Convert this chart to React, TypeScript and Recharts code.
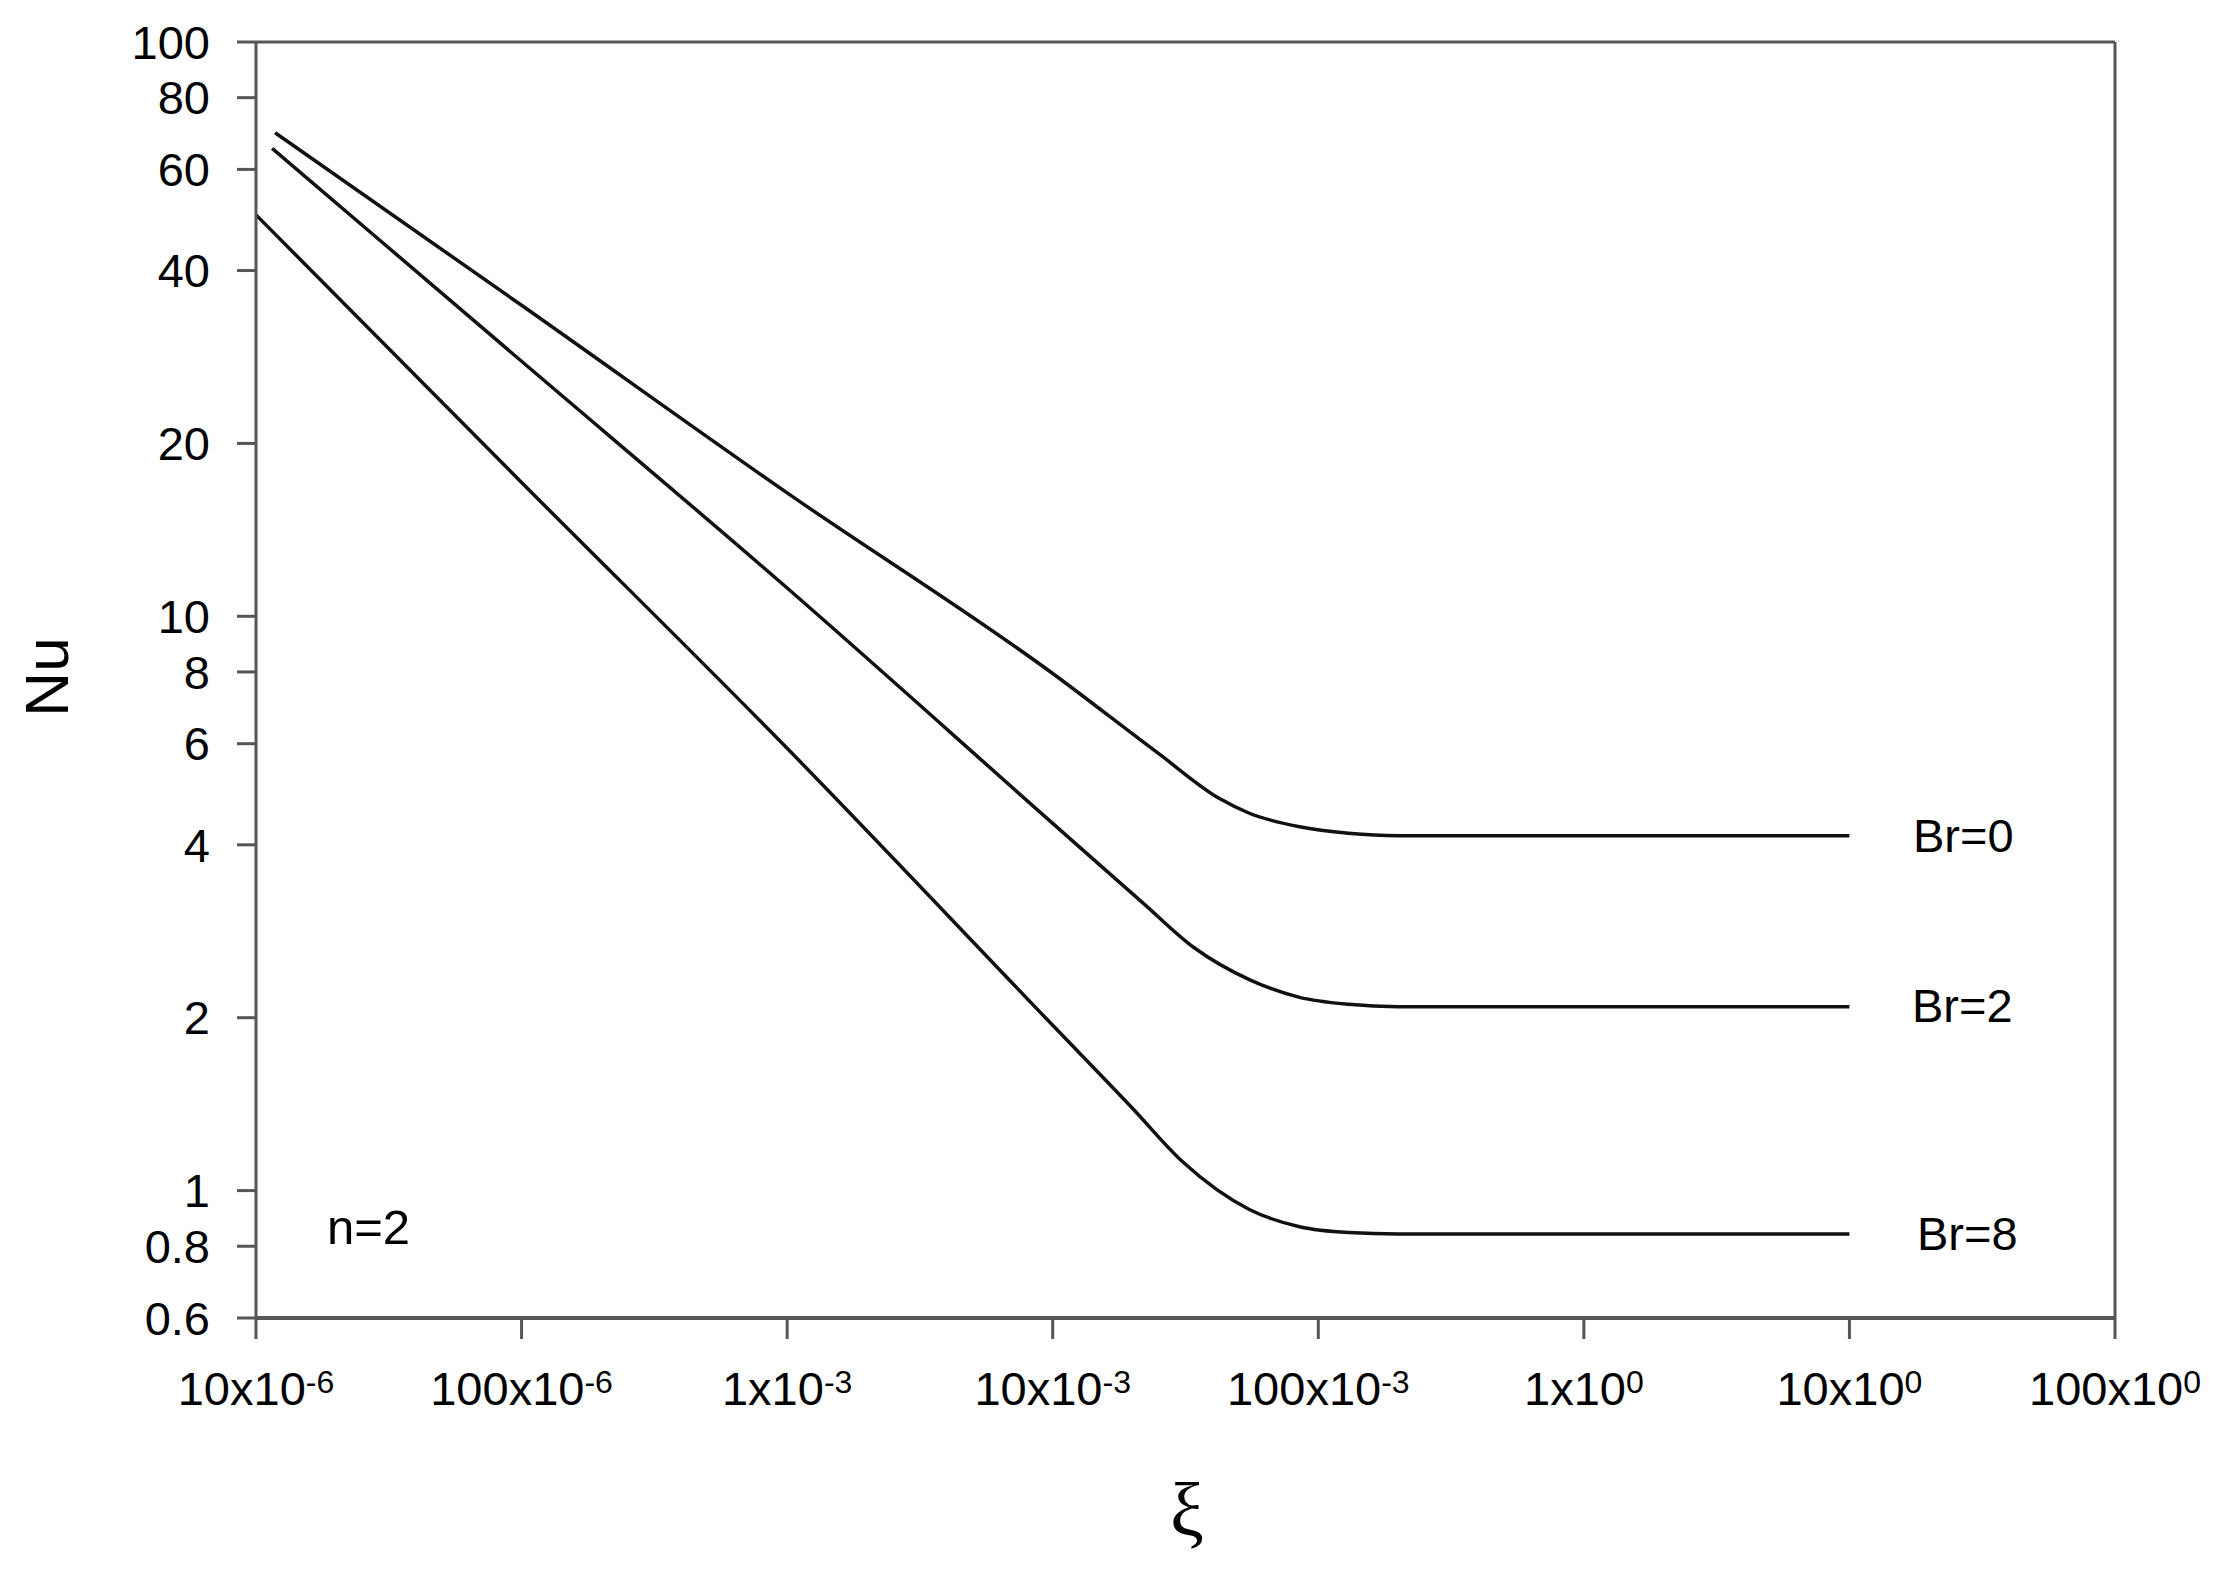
import React from "react";
import { LineChart, Line, XAxis, YAxis, ReferenceLine } from "recharts";

// Nu vs xi, n=2, three Brinkman numbers
const br0X = [1.18e-5, 1e-4, 1e-3, 1e-2, 2.5e-2, 4.23e-2, 5.5e-2, 8.5e-2, 0.13, 0.2, 10];
const br0Nu = [69.5, 34.8, 16.4, 7.95, 5.77, 4.82, 4.54, 4.3, 4.19, 4.15, 4.15];

const br2X = [1.15e-5, 1e-4, 1e-3, 1e-2, 2.2e-2, 3.4e-2, 5.5e-2, 8.5e-2, 0.13, 0.2, 10];
const br2Nu = [65.3, 27.8, 11.2, 4.36, 3.16, 2.65, 2.33, 2.17, 2.11, 2.09, 2.09];

const br8X = [1e-5, 1e-4, 1e-3, 1e-2, 2e-2, 3.1e-2, 5.5e-2, 8.5e-2, 0.13, 0.2, 10];
const br8Nu = [50, 17.1, 5.89, 1.94, 1.39, 1.12, 0.927, 0.865, 0.845, 0.84, 0.84];

const xTicks = [1e-5, 1e-4, 1e-3, 1e-2, 1e-1, 1, 10, 100];
const xTickMant = ["10", "100", "1", "10", "100", "1", "10", "100"];
const xTickExp = ["-6", "-6", "-3", "-3", "-3", "0", "0", "0"];
const yTicks = [0.6, 0.8, 1, 2, 4, 6, 8, 10, 20, 40, 60, 80, 100];

const toPoints = (xs: number[], ys: number[]) => xs.map((x, i) => ({ x, nu: ys[i] }));

const series = [
  { name: "Br=0", data: toPoints(br0X, br0Nu) },
  { name: "Br=2", data: toPoints(br2X, br2Nu) },
  { name: "Br=8", data: toPoints(br8X, br8Nu) },
];

const FONT = "'Liberation Sans', Arial, Helvetica, sans-serif";
const AXIS = "#555";

function XTick(props: any) {
  const { x, y, payload } = props;
  let idx = 0;
  let best = Infinity;
  xTicks.forEach((t, i) => {
    const d = Math.abs(Math.log10(t) - Math.log10(payload.value));
    if (d < best) {
      best = d;
      idx = i;
    }
  });
  return (
    <text x={x} y={y + 66} textAnchor="middle" fontFamily={FONT} fontSize={47} fill="#000">
      <tspan>{xTickMant[idx]}x10</tspan>
      <tspan fontSize={32} dy={-12}>
        {xTickExp[idx]}
      </tspan>
    </text>
  );
}

export default function App() {
  return (
    <div style={{ position: "absolute", left: 0, top: 0, width: 2232, height: 1589, background: "#fff" }}>
      <LineChart
        width={2232}
        height={1589}
        margin={{ top: 42, right: 117, bottom: 171, left: 156 }}
      >
        <XAxis
          dataKey="x"
          type="number"
          scale="log"
          domain={[1e-5, 100]}
          ticks={xTicks}
          interval={0}
          allowDataOverflow
          height={100}
          tickSize={21}
          tickMargin={0}
          tick={<XTick />}
          axisLine={{ stroke: AXIS, strokeWidth: 4 }}
          tickLine={{ stroke: AXIS, strokeWidth: 3 }}
        />
        <YAxis
          dataKey="nu"
          type="number"
          scale="log"
          domain={[0.6, 100]}
          ticks={yTicks}
          interval={0}
          allowDataOverflow
          width={100}
          tickSize={19}
          tickMargin={27}
          tick={{ fontFamily: FONT, fontSize: 47, fill: "#000" }}
          axisLine={{ stroke: AXIS, strokeWidth: 3 }}
          tickLine={{ stroke: AXIS, strokeWidth: 3 }}
        />
        <ReferenceLine y={100} stroke={AXIS} strokeWidth={3} />
        <ReferenceLine x={100} stroke={AXIS} strokeWidth={3} />
        {series.map((s) => (
          <Line
            key={s.name}
            data={s.data}
            dataKey="nu"
            type="monotone"
            stroke="#111"
            strokeWidth={3.5}
            dot={false}
            isAnimationActive={false}
          />
        ))}
      </LineChart>
      <svg
        width={2232}
        height={1589}
        style={{ position: "absolute", left: 0, top: 0, pointerEvents: "none" }}
      >
        <text
          transform="translate(68,677) rotate(-90)"
          textAnchor="middle"
          fontFamily={FONT}
          fontSize={62}
          fill="#000"
        >
          Nu
        </text>
        <text x={1187} y={1536} textAnchor="middle" fontFamily="'Liberation Serif', 'Times New Roman', serif" fontSize={76} fill="#000">
          ξ
        </text>
        <text x={327} y={1244} fontFamily={FONT} fontSize={49} fill="#000">
          n=2
        </text>
        <text x={1913} y={852} fontFamily={FONT} fontSize={47} fill="#000">
          Br=0
        </text>
        <text x={1912} y={1022} fontFamily={FONT} fontSize={47} fill="#000">
          Br=2
        </text>
        <text x={1917} y={1250} fontFamily={FONT} fontSize={47} fill="#000">
          Br=8
        </text>
      </svg>
    </div>
  );
}
